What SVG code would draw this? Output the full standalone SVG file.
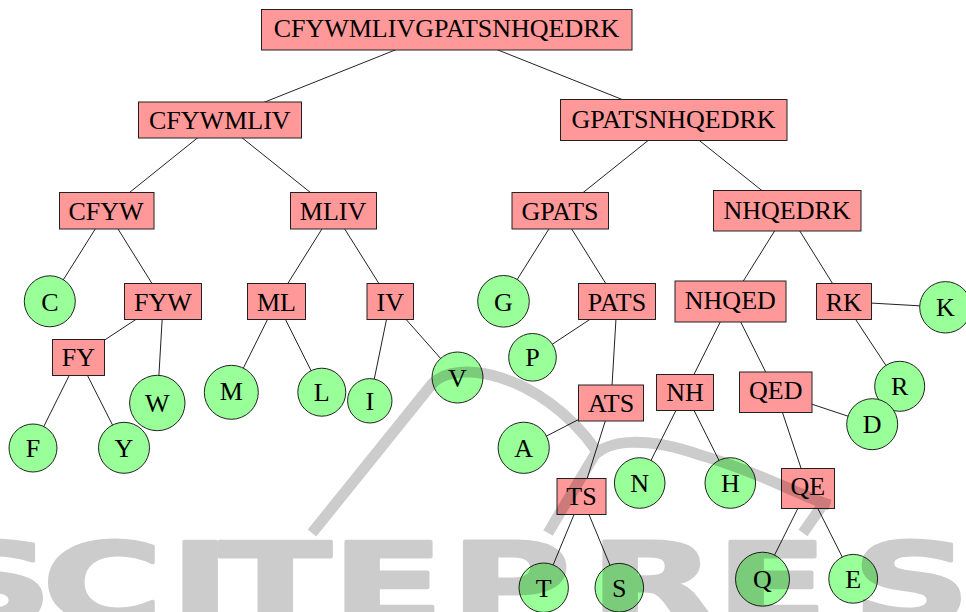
<svg xmlns="http://www.w3.org/2000/svg" width="966" height="612" viewBox="0 0 966 612">
<style>
  .box { fill: #ff9999; stroke: #222; stroke-width: 1; }
  .leaf { fill: #99ff99; stroke: #222; stroke-width: 1; }
  .lbl { font-family: 'Liberation Serif', 'DejaVu Serif', 'Times New Roman', Times, serif; font-size: 26px; fill: #000; text-anchor: middle; }
  #edges line { stroke: #222; stroke-width: 1; }
  .wm { font-family: 'DejaVu Sans', sans-serif; font-weight: bold; font-size: 110px; fill: #000; stroke: #000; stroke-width: 3; stroke-linejoin: round; }
  .sw { fill: none; stroke: #000; stroke-width: 11; stroke-linecap: butt; stroke-linejoin: round; }
</style>
<rect x="0" y="0" width="966" height="612" fill="#ffffff"/>
<g id="edges">
  <line x1="446.5" y1="29.5" x2="219.8" y2="120"/>
  <line x1="446.5" y1="29.5" x2="673.7" y2="120"/>
  <line x1="219.8" y1="120" x2="106.7" y2="210.8"/>
  <line x1="219.8" y1="120" x2="333.3" y2="210.8"/>
  <line x1="106.7" y1="210.8" x2="49.8" y2="301.3"/>
  <line x1="106.7" y1="210.8" x2="163.2" y2="301.5"/>
  <line x1="163.2" y1="301.5" x2="78.3" y2="357.3"/>
  <line x1="163.2" y1="301.5" x2="157.3" y2="403"/>
  <line x1="78.3" y1="357.3" x2="33" y2="448"/>
  <line x1="78.3" y1="357.3" x2="124" y2="447.8"/>
  <line x1="333.3" y1="210.8" x2="276.5" y2="301.5"/>
  <line x1="333.3" y1="210.8" x2="390.2" y2="301.5"/>
  <line x1="276.5" y1="301.5" x2="231.3" y2="392.3"/>
  <line x1="276.5" y1="301.5" x2="321.8" y2="392.2"/>
  <line x1="390.2" y1="301.5" x2="369.8" y2="400.8"/>
  <line x1="390.2" y1="301.5" x2="457.5" y2="377.5"/>
  <line x1="673.7" y1="120" x2="560.3" y2="210.8"/>
  <line x1="673.7" y1="120" x2="787.2" y2="210.8"/>
  <line x1="560.3" y1="210.8" x2="503.5" y2="301.3"/>
  <line x1="560.3" y1="210.8" x2="617" y2="301.5"/>
  <line x1="617" y1="301.5" x2="532.5" y2="357.3"/>
  <line x1="617" y1="301.5" x2="611" y2="402.8"/>
  <line x1="611" y1="402.8" x2="523.7" y2="447.8"/>
  <line x1="611" y1="402.8" x2="581.5" y2="496.5"/>
  <line x1="581.5" y1="496.5" x2="543.7" y2="587.7"/>
  <line x1="581.5" y1="496.5" x2="619.3" y2="587.7"/>
  <line x1="787.2" y1="210.8" x2="730.5" y2="301.5"/>
  <line x1="787.2" y1="210.8" x2="843.8" y2="301.5"/>
  <line x1="730.5" y1="301.5" x2="685" y2="392.3"/>
  <line x1="730.5" y1="301.5" x2="775.7" y2="392.2"/>
  <line x1="685" y1="392.3" x2="639.7" y2="483"/>
  <line x1="685" y1="392.3" x2="730.3" y2="483"/>
  <line x1="775.7" y1="392.2" x2="872.2" y2="424.2"/>
  <line x1="775.7" y1="392.2" x2="807.8" y2="488.5"/>
  <line x1="807.8" y1="488.5" x2="762.5" y2="579.2"/>
  <line x1="807.8" y1="488.5" x2="853.2" y2="578.8"/>
  <line x1="843.8" y1="301.5" x2="945.4" y2="307.3"/>
  <line x1="843.8" y1="301.5" x2="899.7" y2="386.3"/>
</g>
<g id="n-root"><rect class="box" x="261.5" y="9.5" width="370.5" height="40.5"/><text class="lbl" x="446.5" y="36.5">CFYWMLIVGPATSNHQEDRK</text></g>
<g id="n-CFYWMLIV"><rect class="box" x="138.5" y="102" width="163" height="36"/><text class="lbl" x="219.8" y="129">CFYWMLIV</text></g>
<g id="n-GPATSNHQEDRK"><rect class="box" x="560.5" y="99.5" width="226.5" height="41"/><text class="lbl" x="673.5" y="127.5">GPATSNHQEDRK</text></g>
<g id="n-CFYW"><rect class="box" x="59.5" y="192.5" width="94.5" height="36.5"/><text class="lbl" x="106" y="220">CFYW</text></g>
<g id="n-MLIV"><rect class="box" x="290.5" y="192.5" width="86" height="36.5"/><text class="lbl" x="333" y="220">MLIV</text></g>
<g id="n-GPATS"><rect class="box" x="512" y="192.5" width="96.5" height="36.5"/><text class="lbl" x="560" y="220">GPATS</text></g>
<g id="n-NHQEDRK"><rect class="box" x="713.5" y="190.5" width="147.5" height="40.5"/><text class="lbl" x="787" y="219">NHQEDRK</text></g>
<g id="n-FYW"><rect class="box" x="124.5" y="283.5" width="77" height="36"/><text class="lbl" x="163" y="311">FYW</text></g>
<g id="n-ML"><rect class="box" x="247.5" y="283.5" width="58" height="36"/><text class="lbl" x="276.5" y="311">ML</text></g>
<g id="n-IV"><rect class="box" x="367" y="283.5" width="46.5" height="36"/><text class="lbl" x="390.2" y="311">IV</text></g>
<g id="n-PATS"><rect class="box" x="578.5" y="283.5" width="77" height="36"/><text class="lbl" x="617" y="311">PATS</text></g>
<g id="n-NHQED"><rect class="box" x="675" y="281" width="111" height="41"/><text class="lbl" x="730.3" y="308.5">NHQED</text></g>
<g id="n-RK"><rect class="box" x="816.5" y="283.5" width="55" height="36"/><text class="lbl" x="843.8" y="311">RK</text></g>
<g id="n-FY"><rect class="box" x="52.5" y="339.5" width="52" height="36"/><text class="lbl" x="78.3" y="366">FY</text></g>
<g id="n-ATS"><rect class="box" x="578.5" y="385" width="65" height="36"/><text class="lbl" x="611" y="412">ATS</text></g>
<g id="n-NH"><rect class="box" x="656.5" y="374.5" width="57" height="36"/><text class="lbl" x="685" y="401">NH</text></g>
<g id="n-QED"><rect class="box" x="739.5" y="372" width="72.5" height="40.5"/><text class="lbl" x="775.7" y="399">QED</text></g>
<g id="n-TS"><rect class="box" x="557" y="478.5" width="49" height="36"/><text class="lbl" x="581.5" y="505">TS</text></g>
<g id="n-QE"><rect class="box" x="781.5" y="468.5" width="53" height="40"/><text class="lbl" x="807.8" y="495">QE</text></g>
<g id="n-C"><circle class="leaf" cx="49.8" cy="301.3" r="25.5"/><text class="lbl" x="49.8" y="310.5">C</text></g>
<g id="n-G"><circle class="leaf" cx="503.5" cy="301.3" r="25.8"/><text class="lbl" x="503.5" y="310.5">G</text></g>
<g id="n-K"><circle class="leaf" cx="945.4" cy="307.3" r="25.7"/><text class="lbl" x="945.4" y="316.3">K</text></g>
<g id="n-P"><circle class="leaf" cx="532.5" cy="357.3" r="23.8"/><text class="lbl" x="532.5" y="366.3">P</text></g>
<g id="n-V"><circle class="leaf" cx="457.5" cy="377.5" r="25.5"/><text class="lbl" x="457.5" y="386.5">V</text></g>
<g id="n-W"><circle class="leaf" cx="157.3" cy="403" r="27.7"/><text class="lbl" x="157.3" y="411.7">W</text></g>
<g id="n-M"><circle class="leaf" cx="231.3" cy="392.3" r="27"/><text class="lbl" x="231.3" y="400.3">M</text></g>
<g id="n-L"><circle class="leaf" cx="321.8" cy="392.2" r="24"/><text class="lbl" x="321.8" y="401">L</text></g>
<g id="n-I"><circle class="leaf" cx="369.8" cy="400.8" r="22.2"/><text class="lbl" x="369.8" y="409.8">I</text></g>
<g id="n-R"><circle class="leaf" cx="899.7" cy="386.3" r="25"/><text class="lbl" x="899.7" y="395.3">R</text></g>
<g id="n-D"><circle class="leaf" cx="872.2" cy="424.2" r="25.5"/><text class="lbl" x="872.2" y="433.2">D</text></g>
<g id="n-F"><circle class="leaf" cx="33" cy="448" r="24"/><text class="lbl" x="33" y="457.3">F</text></g>
<g id="n-Y"><circle class="leaf" cx="124" cy="447.8" r="25.5"/><text class="lbl" x="124" y="457.3">Y</text></g>
<g id="n-A"><circle class="leaf" cx="523.7" cy="447.8" r="25.6"/><text class="lbl" x="523.7" y="456.8">A</text></g>
<g id="n-N"><circle class="leaf" cx="639.7" cy="483" r="25.3"/><text class="lbl" x="639.7" y="492">N</text></g>
<g id="n-H"><circle class="leaf" cx="730.3" cy="483" r="25.3"/><text class="lbl" x="730.3" y="492">H</text></g>
<g id="n-T"><circle class="leaf" cx="543.7" cy="587.7" r="24.7"/><text class="lbl" x="543.7" y="596.7">T</text></g>
<g id="n-S"><circle class="leaf" cx="619.3" cy="587.7" r="24.3"/><text class="lbl" x="619.3" y="596.7">S</text></g>
<g id="n-Q"><circle class="leaf" cx="762.5" cy="579.2" r="27"/><text class="lbl" x="762.5" y="588.2">Q</text></g>
<g id="n-E"><circle class="leaf" cx="853.2" cy="578.8" r="24.4"/><text class="lbl" x="853.2" y="587.8">E</text></g>
<g id="watermark" opacity="0.2">
  <text class="wm" transform="scale(1.5,1)" x="-44 28 113 146 221 300 393 477 568 660" y="622">SCITEPRESS</text>
  <path class="sw" d="M 312 533 L 432 384 C 455 358 540 372 596 450"/>
  <path class="sw" d="M 548 533 L 594 456 C 608 440 645 436 700 455 C 760 472 800 496 830 505"/>
  <path class="sw" d="M 803 533 L 826 500"/>
</g>
</svg>
